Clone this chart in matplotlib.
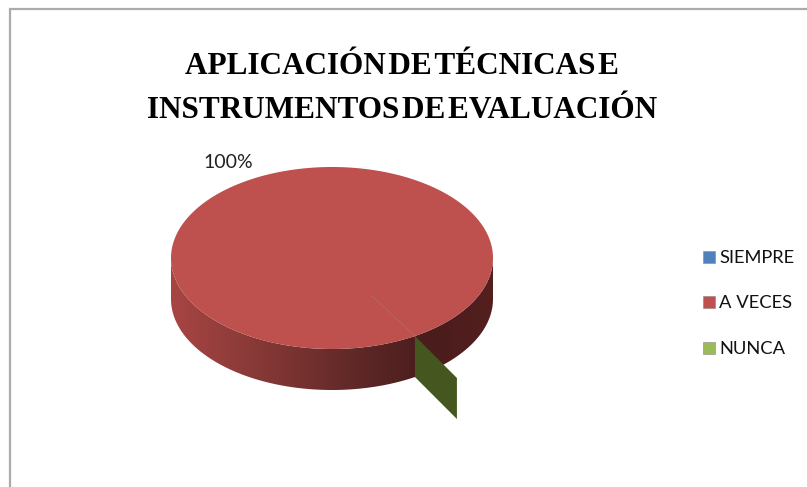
import numpy as np
import matplotlib
matplotlib.use("Agg")
import matplotlib.pyplot as plt
from matplotlib.colors import LinearSegmentedColormap
from matplotlib.patches import Polygon, Rectangle

title_lines = ["APLICACIÓN\u200aDE\u200aTÉCNICAS\u200aE", "INSTRUMENTOS\u200aDE\u200aEVALUACIÓN"]
labels = ["SIEMPRE", "A VECES", "NUNCA"]
values = [0, 100, 0]
colors = ["#4f81bd", "#be504d", "#9bbb59"]
side_stops = ["#a84543", "#8f3c3a", "#763230", "#5c2726", "#4a1c1c", "#541f1f"]

W, H = 807, 487
cx, cy, rx, ry, depth = 332, 258, 161, 91, 41
start_deg = 301  # where the first slice begins, counter clockwise


def rim(deg):
    a = np.radians(deg)
    return cx + rx * np.cos(a), cy - ry * np.sin(a)


fig = plt.figure(figsize=(W / 100, H / 100), dpi=100)
ax = fig.add_axes([0, 0, 1, 1])
ax.set_xlim(0, W)
ax.set_ylim(H, 0)
ax.axis("off")

ax.add_patch(Rectangle((10, 9), 850, 600, fc="white", ec="#ababab", lw=1.6))

# side wall, lower half of the ellipse
t = np.linspace(180, 360, 200)
x, y = rim(t)
side = np.r_[np.c_[x, y], np.c_[x[::-1], y[::-1] + depth]]
poly = Polygon(side, closed=True, fc="none", ec="none")
ax.add_patch(poly)
cmap = LinearSegmentedColormap.from_list("side", side_stops)
im = ax.imshow(np.linspace(0, 1, 256)[None, :], cmap=cmap, aspect="auto",
               extent=(cx - rx, cx + rx, cy + ry + depth, cy), zorder=2)
im.set_clip_path(poly)
ax.set_xlim(0, W)
ax.set_ylim(H, 0)

# top of the pie
shares = np.array(values) / sum(values) * 360
angle = start_deg
for share, c in zip(shares, colors):
    if share > 0:
        t = np.linspace(angle, angle + share, 400)
        x, y = rim(t)
        ax.fill(x, y, color=c, lw=0, zorder=3)
    angle += share

# the empty NUNCA slice still shows as a pulled out sliver
px, py = rim(start_deg)
qx, qy = px + 42, py + 42
ax.fill([px, qx, qx, px], [py, qy, qy + depth, py + depth], color="#45571f", lw=0, zorder=4)
ax.plot([cx + 40, px], [cy + 38, py], color="#b5625a", lw=1, zorder=4)

for line, ly in zip(title_lines, [66, 110]):
    ax.text(402, ly, line, ha="center", va="center", family="Liberation Serif",
            weight="bold", fontsize=22.5, color="black", zorder=5)
ax.text(228, 162, "100%", ha="center", va="center", family="Lato", fontsize=14, color="#222222")

for lab, c, ly in zip(labels, colors, [257, 302, 348]):
    ax.add_patch(Rectangle((703, ly - 6), 12, 12, fc=c, ec="#888888", lw=0.4, zorder=5))
    ax.text(719, ly + 1, lab, ha="left", va="center", family="Lato", fontsize=13.2, color="#111111")

fig.savefig("out.png", dpi=100)
